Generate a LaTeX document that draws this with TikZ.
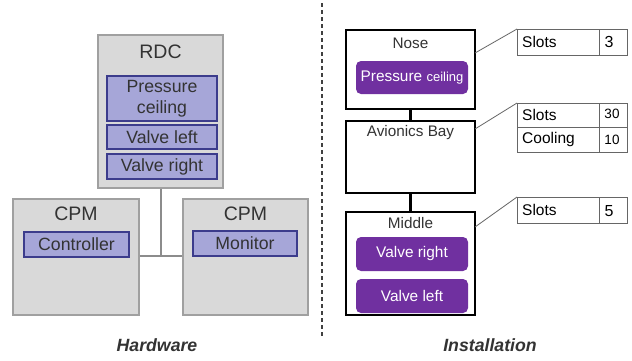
\documentclass[tikz,border=0pt]{standalone}
\usepackage{fontspec}
\setmainfont{Liberation Sans}
\usetikzlibrary{calc}
\definecolor{boxgray}{HTML}{D9D9D9}
\definecolor{boxedge}{HTML}{A0A0A0}
\definecolor{lav}{HTML}{A6A6D8}
\definecolor{lavedge}{HTML}{3C3C8C}
\definecolor{purp}{HTML}{7030A0}
\definecolor{txt}{HTML}{333333}
\definecolor{busgray}{HTML}{8C8C8C}
\definecolor{tabedge}{HTML}{666666}
\begin{document}
\begin{tikzpicture}[x=1pt,y=-1pt,
  hwbox/.style={draw=boxedge,fill=boxgray,line width=1.1pt,inner sep=0pt},
  fnbox/.style={draw=lavedge,fill=lav,line width=1.1pt,inner sep=0pt,text=txt,
    font=\fontsize{17.7}{21}\selectfont,align=center},
  hwtitle/.style={text=txt,font=\fontsize{19.5}{22}\selectfont,inner sep=0pt},
  zone/.style={draw=black,fill=white,line width=1.2pt,inner sep=0pt},
  zonetitle/.style={text=txt,font=\fontsize{15.3}{18}\selectfont,inner sep=0pt},
  pbox/.style={fill=purp,rounded corners=5pt,inner sep=0pt,text=white,
    font=\fontsize{15.4}{18}\selectfont,minimum width=112pt},
  cell/.style={draw=tabedge,line width=0.8pt,inner sep=0pt,anchor=north west},
  celltxt/.style={text=black,font=\fontsize{15.5}{18}\selectfont,inner sep=0pt,anchor=west},
  numtxt/.style={text=black,inner sep=0pt},
  lead/.style={draw=tabedge,line width=0.8pt},
  caption/.style={text=txt,font=\fontsize{17.7}{20}\selectfont\bfseries\itshape,inner sep=0pt}
]
\useasboundingbox[fill=white] (0,0) rectangle (632,360);

% ---------- Hardware ----------
\node[hwbox,minimum width=125pt,minimum height=153pt] (rdc) at (160.5,111.5) {};
\node[hwtitle] (rdct) at (160.5,52) {RDC};
\node[fnbox,minimum width=110pt,minimum height=45pt] (pc) at (162,98.5) {Pressure\\ceiling};
\node[fnbox,minimum width=110pt,minimum height=24pt] (vl) at (162,137) {Valve left};
\node[fnbox,minimum width=110pt,minimum height=25pt] (vr) at (162,166.5) {Valve right};

\node[hwbox,minimum width=126pt,minimum height=116pt] (cpml) at (76,257) {};
\node[hwtitle] (cpmlt) at (76,214) {CPM};
\node[fnbox,minimum width=105pt,minimum height=25pt] (ctl) at (76.5,244.5) {Controller};

\node[hwbox,minimum width=125pt,minimum height=116pt] (cpmr) at (245.5,257) {};
\node[hwtitle] (cpmrt) at (245.5,214) {CPM};
\node[fnbox,minimum width=104pt,minimum height=25pt] (mon) at (245,243.5) {Monitor};

\coordinate (bus) at (160.5,256);
\draw[busgray,line width=2pt] (rdc.south) -- (bus);
\draw[busgray,line width=2pt] (cpml.east |- bus) -- (cpmr.west |- bus);

\node[caption] (hw) at (157,345) {Hardware};

% ---------- divider ----------
\coordinate (dtop) at (322,3);
\coordinate (dbot) at (322,337);
\draw[black!75,line width=1.3pt,dash pattern=on 4pt off 3pt] (dtop) -- (dbot);

% ---------- Installation ----------
\node[zone,minimum width=129pt,minimum height=79pt] (nose) at (410.5,69.5) {};
\node[zone,minimum width=129pt,minimum height=72pt] (bay) at (410.5,157) {};
\node[zone,minimum width=129pt,minimum height=103pt] (mid) at (410.5,263.5) {};
\draw[black,line width=2.5pt] (nose.south) -- (bay.north);
\draw[black,line width=2.5pt] (bay.south) -- (mid.north);

\node[zonetitle] (noset) at (410.5,43) {Nose};
\node[zonetitle] (bayt) at (410.5,133) {Avionics Bay};
\node[zonetitle] (midt) at (410.5,223) {Middle};

\node[pbox,minimum height=33pt] (ppc) at (412,77.5) {Pressure {\fontsize{13}{15}\selectfont ceiling}};
\node[pbox,minimum height=34pt] (pvr) at (412,254) {Valve right};
\node[pbox,minimum height=34pt] (pvl) at (412,296) {Valve left};

% tables
\node[cell,minimum width=82pt,minimum height=26pt] (t1a) at (517,29) {};
\node[cell,minimum width=28pt,minimum height=26pt] (t1b) at (599,29) {};
\node[celltxt] at (522,42) {Slots};
\node[numtxt,font=\fontsize{16}{18}\selectfont] at (609,42) {3};

\node[cell,minimum width=82pt,minimum height=24pt] (t2a) at (517,103) {};
\node[cell,minimum width=28pt,minimum height=24pt] (t2b) at (599,103) {};
\node[cell,minimum width=82pt,minimum height=25pt] (t2c) at (517,127) {};
\node[cell,minimum width=28pt,minimum height=25pt] (t2d) at (599,127) {};
\node[celltxt] at (522,115) {Slots};
\node[numtxt,font=\fontsize{13.5}{16}\selectfont] at (612,114) {30};
\node[celltxt] at (522,139.5) {Cooling};
\node[numtxt,font=\fontsize{13.5}{16}\selectfont] at (612,139.5) {10};

\node[cell,minimum width=82pt,minimum height=26pt] (t3a) at (517,197) {};
\node[cell,minimum width=28pt,minimum height=26pt] (t3b) at (599,197) {};
\node[celltxt] at (522,210) {Slots};
\node[numtxt,font=\fontsize{16}{18}\selectfont] at (609,211) {5};

% leader lines
\coordinate (l1) at (475,53);
\coordinate (l2) at (475,129);
\coordinate (l3) at (475,227);
\draw[lead] (l1) -- (t1a.north west);
\draw[lead] (l2) -- (t2a.north west);
\draw[lead] (l3) -- (t3a.north west);

\node[caption] (inst) at (490,345) {Installation};
\end{tikzpicture}
\end{document}
